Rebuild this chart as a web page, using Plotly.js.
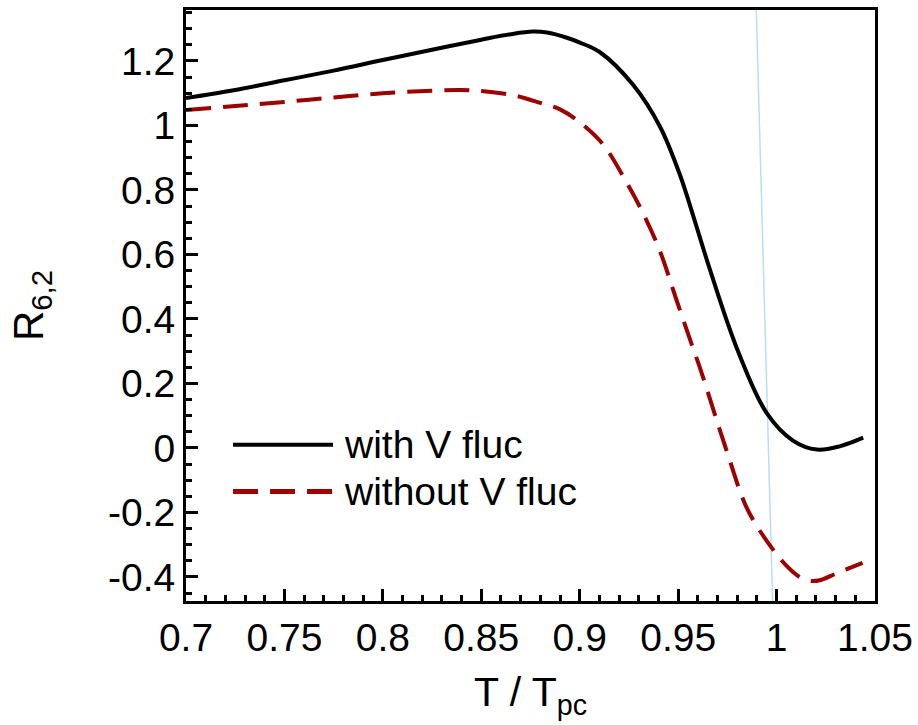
<!DOCTYPE html>
<html>
<head>
<meta charset="utf-8">
<script src="https://cdn.plot.ly/plotly-3.0.1.min.js"></script>
<style>html,body{margin:0;padding:0;background:#fff;}#chart{width:918px;height:725px;}</style>
</head>
<body>
<div id="chart"></div>
<script>
// Series: with volume fluctuations (solid black)
const withX = [0.700, 0.725, 0.750, 0.775, 0.800, 0.825, 0.850, 0.865, 0.8763, 0.8834, 0.8935, 0.9001, 0.9103, 0.9271, 0.9408, 0.9509, 0.9586, 0.9662, 0.9799, 0.9951, 1.0083, 1.0205, 1.032, 1.044];
const withY = [1.085, 1.110, 1.140, 1.170, 1.203, 1.235, 1.266, 1.283, 1.291, 1.288, 1.272, 1.257, 1.227, 1.126, 0.996, 0.847, 0.701, 0.552, 0.308, 0.107, 0.023, -0.005, 0.005, 0.032];
// Series: without volume fluctuations (dashed dark red)
const withoutX = [0.700, 0.725, 0.750, 0.775, 0.800, 0.825, 0.840, 0.850, 0.866, 0.880, 0.890, 0.900, 0.912, 0.924, 0.932, 0.9406, 0.9492, 0.9574, 0.961, 0.9746, 0.9848, 0.995, 1.005, 1.0117, 1.0168, 1.022, 1.030, 1.0437];
const withoutY = [1.048, 1.060, 1.073, 1.087, 1.100, 1.108, 1.110, 1.107, 1.094, 1.070, 1.050, 1.010, 0.940, 0.821, 0.730, 0.613, 0.458, 0.312, 0.250, -0.008, -0.185, -0.288, -0.365, -0.400, -0.412, -0.410, -0.390, -0.356];
const seriesNames = ["with V fluc", "without V fluc"];
// Thin guide line near T/Tpc = 1
const guideX = [0.9897, 0.9980];
// Tick labels
const xTickVals = [0.7, 0.75, 0.8, 0.85, 0.9, 0.95, 1, 1.05];
const xTickText = ["0.7", "0.75", "0.8", "0.85", "0.9", "0.95", "1", "1.05"];
const yTickVals = [-0.4, -0.2, 0, 0.2, 0.4, 0.6, 0.8, 1, 1.2];
const yTickText = ["-0.4", "-0.2", "0", "0.2", "0.4", "0.6", "0.8", "1", "1.2"];
// Legend sample positions (data coordinates)
const legendLineX = [0.7239, 0.7747];
const legendTextX = 0.7792;
const legendY = [0.010, -0.135];

const FONT = "Liberation Sans, Arial, Helvetica, sans-serif";
const RED = "#9c0000";

const traces = [
  {x: withX, y: withY, name: seriesNames[0], type: "scatter", mode: "lines",
   line: {color: "#000000", width: 4, shape: "spline", smoothing: 1}},
  {x: withoutX, y: withoutY, name: seriesNames[1], type: "scatter", mode: "lines",
   line: {color: RED, width: 4, dash: "25px,12px", shape: "spline", smoothing: 1}}
];

const layout = {
  width: 918, height: 725,
  margin: {l: 186, r: 43, t: 10, b: 124},
  paper_bgcolor: "#fff", plot_bgcolor: "#fff",
  showlegend: false,
  font: {family: FONT, size: 39, color: "#000"},
  xaxis: {
    range: [0.7, 1.05], showgrid: false, zeroline: false,
    showline: true, linewidth: 3, linecolor: "#000", mirror: true,
    ticks: "inside", ticklen: 12, tickwidth: 3, tickcolor: "#000",
    tickmode: "array", tickvals: xTickVals, ticktext: xTickText,
    minor: {dtick: 0.01, ticks: "inside", ticklen: 6, tickwidth: 3, tickcolor: "#000", showgrid: false},
    tickfont: {family: FONT, size: 39},
    title: {text: "T / T<sub>pc</sub>", font: {family: FONT, size: 41}, standoff: 20}
  },
  yaxis: {
    range: [-0.4745, 1.358], showgrid: false, zeroline: false,
    showline: true, linewidth: 3, linecolor: "#000", mirror: true,
    ticks: "inside", ticklen: 12, tickwidth: 3, tickcolor: "#000",
    tickmode: "array", tickvals: yTickVals, ticktext: yTickText,
    minor: {dtick: 0.05, ticks: "inside", ticklen: 6, tickwidth: 3, tickcolor: "#000", showgrid: false},
    tickfont: {family: FONT, size: 39},
    title: {text: "R<sub>6,2</sub>", font: {family: FONT, size: 42}, standoff: 52}
  },
  shapes: [
    {type: "line", xref: "x", yref: "paper", x0: guideX[0], x1: guideX[1], y0: 1, y1: 0,
     line: {color: "#b9def7", width: 1.5}, layer: "below"},
    {type: "line", xref: "x", yref: "y", x0: legendLineX[0], x1: legendLineX[1], y0: legendY[0], y1: legendY[0],
     line: {color: "#000", width: 4}},
    {type: "line", xref: "x", yref: "y", x0: legendLineX[0], x1: legendLineX[1], y0: legendY[1], y1: legendY[1],
     line: {color: RED, width: 5, dash: "25px,12px"}}
  ],
  annotations: [
    {xref: "x", yref: "y", x: legendTextX, y: legendY[0], text: seriesNames[0], showarrow: false,
     xanchor: "left", yanchor: "middle", font: {family: FONT, size: 39, color: "#000"}},
    {xref: "x", yref: "y", x: legendTextX, y: legendY[1], text: seriesNames[1], showarrow: false,
     xanchor: "left", yanchor: "middle", font: {family: FONT, size: 39, color: "#000"}}
  ]
};

Plotly.newPlot("chart", traces, layout, {displayModeBar: false, staticPlot: true});
</script>
</body>
</html>
